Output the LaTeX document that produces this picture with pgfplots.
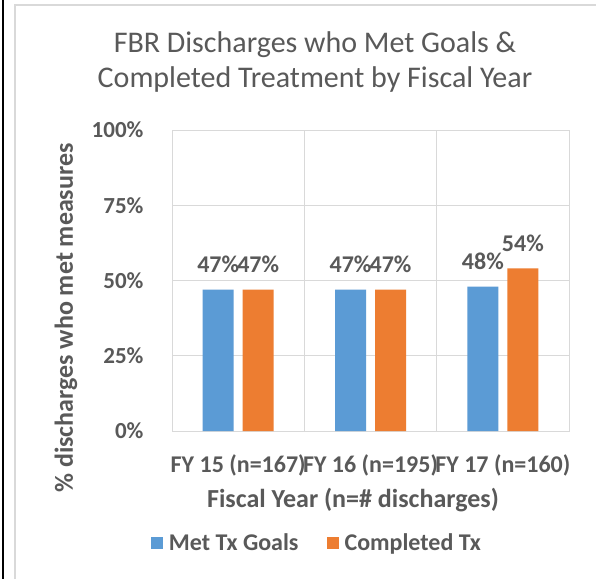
\documentclass[border=0pt]{standalone}
\usepackage{pgfplots}
\pgfplotsset{compat=1.18}
\usepackage{fontspec}
\setmainfont{Carlito}
\definecolor{txt}{HTML}{595959}
\definecolor{grd}{HTML}{D9D9D9}
\definecolor{cblue}{HTML}{5B9BD5}
\definecolor{corange}{HTML}{ED7D31}
\begin{document}
\begin{tikzpicture}
\path[use as bounding box] (0pt,0pt) rectangle (596pt,-579pt);
\fill[white] (0pt,0pt) rectangle (596pt,-579pt);
\draw[black,line width=2pt] (3pt,0pt) -- (3pt,-579pt);
\draw[grd,line width=2pt] (15pt,-579pt) -- (15pt,-5pt) -- (596pt,-5pt);
\begin{axis}[
  at={(172pt,-431pt)}, anchor=south west,
  scale only axis, width=397pt, height=301pt,
  /pgf/number format/assume math mode=true,
  ybar, bar width=31pt,
  xmin=-0.5, xmax=2.5, ymin=0, ymax=100,
  xtick={0,1,2},
  xticklabels={FY 15 (n=167),FY 16 (n=195),FY 17 (n=160)},
  minor xtick={0.5,1.5},
  xminorgrids=true, ymajorgrids=true,
  minor grid style={grd,line width=1pt},
  major grid style={grd,line width=1pt},
  axis line style={grd,line width=1pt},
  major tick length=0pt, minor tick length=0pt,
  ytick={0,25,50,75,100},
  yticklabels={0\%,25\%,50\%,75\%,100\%},
  tick label style={font=\fontsize{24}{28}\selectfont\bfseries, text=txt},
  yticklabel style={xshift=-25pt, font=\fontsize{23}{28}\selectfont\bfseries},
  xticklabel style={yshift=-20pt},
  nodes near coords={\pgfmathprintnumber{\pgfplotspointmeta}\%},
  every node near coord/.append style={font=\fontsize{24}{28}\selectfont\bfseries, text=txt, anchor=south, inner sep=0pt, yshift=17pt},
  legend style={at={(0.365,-0.372)}, anchor=center, draw=none, fill=none, legend columns=2,
    font=\fontsize{24}{28}\selectfont\bfseries, text=txt,
    /tikz/every odd column/.append style={column sep=4pt},
    /tikz/every even column/.append style={column sep=26pt}},
  legend image code/.code={\fill[#1] (0pt,-6pt) rectangle (12pt,6pt);},
  clip=false,
]
\addplot[draw=none, fill=cblue, bar shift=-20pt] coordinates {(0,47) (1,47) (2,48)};
\addplot[draw=none, fill=corange, bar shift=20pt] coordinates {(0,47) (1,47) (2,54)};
\legend{Met Tx Goals, Completed Tx}
\end{axis}
\node[text=txt, font=\fontsize{30}{35}\selectfont, align=center] at (315pt,-62pt) {FBR Discharges who Met Goals \&\\Completed Treatment by Fiscal Year};
\node[text=txt, font=\fontsize{26}{30}\selectfont\bfseries] at (353pt,-500pt) {Fiscal Year (n=\# discharges)};
\node[text=txt, font=\fontsize{26}{30}\selectfont\bfseries, rotate=90] at (66pt,-318pt) {\% discharges who met measures};
\end{tikzpicture}
\end{document}
